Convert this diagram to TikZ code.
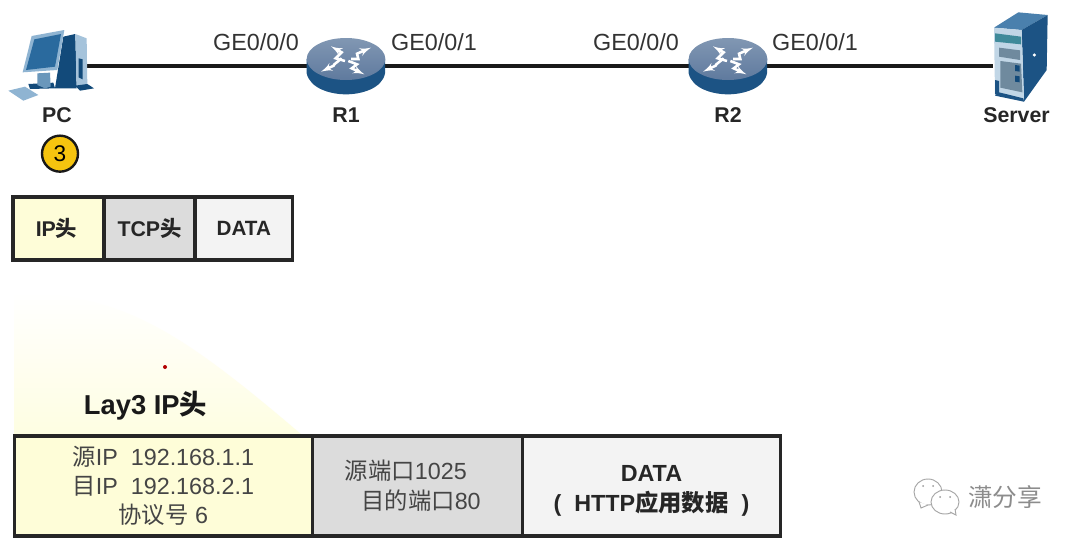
\documentclass[tikz,border=0pt]{standalone}
\usepackage{fontspec}
\setmainfont{Liberation Sans}
\newfontfamily\cjk{Noto Sans CJK SC}
\usepackage{tikz}
\usetikzlibrary{arrows}
\usetikzlibrary{calc}
\definecolor{iconblue}{HTML}{1C5384}
\definecolor{icondark}{HTML}{124A7A}
\definecolor{iconscreen}{HTML}{2A6A9E}
\definecolor{iconlight}{HTML}{8FB4D2}
\definecolor{icontop}{HTML}{4A80AD}
\definecolor{iconteal}{HTML}{3F8A9A}
\definecolor{iconpanel}{HTML}{6F8A9E}
\definecolor{routertop}{HTML}{8197B3}
\definecolor{routerlow}{HTML}{5F7A9E}
\definecolor{ipyellow}{HTML}{FEFDD8}
\definecolor{tcpgrey}{HTML}{DCDCDC}
\definecolor{datagrey}{HTML}{F3F3F3}
\definecolor{stepgold}{HTML}{F6C40F}
\definecolor{softtext}{HTML}{454545}
\newcommand{\zh}[1]{{\cjk #1}}
\tikzset{
    cell/.style={draw=black!85,line width=2.3pt,outer sep=0pt,inner sep=0pt,align=center},
    hostbox/.style={inner sep=0pt,outer sep=0pt},
    hostlabel/.style={font=\fontsize{16}{18}\selectfont\bfseries,text=black!85},
    portlabel/.style={font=\fontsize{17.5}{20}\selectfont,text=black!80},
    link/.style={line width=2.5pt,black!90},
    pics/pcicon/.style={code={
        \begin{scope}[x=.25pt,y=-.25pt,shift={(-171,-138)}]
        \fill [iconlight] (25,212) -- (75,200) -- (115,225) -- (70,242) -- cycle;
        \fill [icondark] (190,50) -- (226,42) -- (230,205) -- (165,205) -- cycle;
        \fill [iconlight!80] (226,42) -- (260,55) -- (262,195) -- (230,205) -- cycle;
        \fill [icondark] (236,115) -- (248,118) -- (248,178) -- (236,172) -- cycle;
        \fill [icondark] (225,197) -- (262,192) -- (282,205) -- (240,212) -- cycle;
        \fill [icondark] (85,192) -- (160,188) -- (165,205) -- (90,207) -- cycle;
        \fill [iconscreen!70] (112,160) -- (150,158) -- (152,200) -- (135,205) -- (112,195) -- cycle;
        \fill [iconlight] (95,48) -- (193,30) -- (172,150) -- (68,157) -- cycle;
        \fill [iconscreen] (103,58) -- (183,42) -- (165,140) -- (78,150) -- cycle;
        \end{scope}}},
    pics/routericon/.style={code={
        \begin{scope}[x=.25pt,y=-.25pt,shift={(-153,-123)}]
        \fill [iconblue] (35,102) -- (35,145) .. controls (45,190) and (105,208) .. (153,208)
            .. controls (200,208) and (262,190) .. (270,145) -- (270,102) -- cycle;
        \shade [top color=routertop,bottom color=routerlow] (153,102) ellipse [x radius=118,y radius=63];
        \draw [white,line width=1.9pt,-latex'] (150,108) -- (122,100) -- (140,82) -- (108,64);
        \draw [white,line width=1.9pt,-latex'] (168,102) -- (190,102) -- (186,86) -- (228,68);
        \draw [white,line width=1.9pt,-latex'] (140,100) -- (118,118) -- (116,122) -- (78,140);
        \draw [white,line width=1.9pt,-latex'] (160,108) -- (186,118) -- (170,130) -- (208,148);
        \end{scope}}},
    pics/servericon/.style={code={
        \begin{scope}[x=.25pt,y=-.25pt,shift={(-124.5,-183)}]
        \fill [icontop] (57,68) -- (130,22) -- (218,30) -- (140,75) -- cycle;
        \fill [iconblue] (140,75) -- (218,30) -- (215,195) -- (147,290) -- cycle;
        \fill [iconlight!55] (57,68) -- (140,75) -- (147,290) -- (60,270) -- cycle;
        \fill [iconteal] (60,85) -- (138,95) -- (138,118) -- (60,110) -- cycle;
        \fill [iconpanel] (72,128) -- (135,136) -- (135,165) -- (72,155) -- cycle;
        \fill [iconpanel] (76,168) -- (138,176) -- (142,262) -- (76,248) -- cycle;
        \fill [icondark] (120,180) -- (134,182) -- (134,200) -- (120,198) -- cycle;
        \fill [icondark] (120,212) -- (134,214) -- (134,232) -- (120,230) -- cycle;
        \fill [iconblue] (60,225) -- (72,228) -- (72,270) -- (60,268) -- cycle;
        \fill [iconblue] (72,262) -- (145,280) -- (147,290) -- (60,272) -- cycle;
        \fill [white] (178,150) circle [radius=5];
        \end{scope}}},
}
\begin{document}
\begin{tikzpicture}[x=.75pt,y=-.75pt,>=latex']
        \useasboundingbox [fill=white] (0,0) rectangle (1080,546);
        \shade [top color=white,bottom color=ipyellow!75]
        (14,292) .. controls (120,296) and (170,322) .. (302,435) -- (14,435) -- cycle;
        \fill [red!70!black] (165,367) circle [radius=2];
        \draw node [hostbox,minimum width=45pt,minimum height=42pt] (PC) at (57,66) {};
        \draw node [hostbox,minimum width=58.5pt,minimum height=42pt] (R1) at (346,66) {};
        \draw node [hostbox,minimum width=58.5pt,minimum height=42pt] (R2) at (728,66) {};
        \draw node [hostbox,minimum width=35.25pt,minimum height=42pt] (Server) at (1016.5,66) {};
        \draw [link] (PC.east) -- (R1.west);
        \draw [link] (R1.east) -- (R2.west);
        \draw [link] (R2.east) -- (Server.west);
        \pic at (PC) {pcicon};
        \pic at (R1) {routericon};
        \pic at (R2) {routericon};
        \pic at (Server) {servericon};
        \draw node [hostlabel,below of=PC,node distance=36.75pt] (PClabel) {PC};
        \draw node [hostlabel,below of=R1,node distance=36.75pt] (R1label) {R1};
        \draw node [hostlabel,below of=R2,node distance=36.75pt] (R2label) {R2};
        \draw node [hostlabel,below of=Server,node distance=36.75pt] (Serverlabel) {Server};
        \draw node [portlabel] (R1in) at (256,42) {GE0/0/0};
        \draw node [portlabel] (R1out) at (434,42) {GE0/0/1};
        \draw node [portlabel] (R2in) at (636,42) {GE0/0/0};
        \draw node [portlabel] (R2out) at (815,42) {GE0/0/1};
        \draw node [draw=black!90,circle,line width=1.8pt,fill=stepgold,inner sep=0pt,
            minimum size=27pt,font=\fontsize{17}{20}\selectfont,xshift=2.25pt,
            below of=PClabel,node distance=29pt] (Step) {3};
        \draw node [cell,fill=ipyellow,minimum width=68.25pt,minimum height=47.25pt,
            font=\fontsize{16}{18}\selectfont\bfseries,text=black!85] (H1) at (58.5,228.5) {IP\zh{头}\hspace{3pt}};
        \draw node [cell,fill=tcpgrey,minimum width=68.25pt,minimum height=47.25pt,
            font=\fontsize{16}{18}\selectfont\bfseries,text=black!85,
            right of=H1,node distance=68.25pt] (H2) {TCP\zh{头}};
        \draw node [cell,fill=datagrey,minimum width=73.1pt,minimum height=47.25pt,
            font=\fontsize{15.5}{18}\selectfont\bfseries,text=black!85,
            right of=H2,node distance=70.7pt] (H3) {DATA};
        \draw node [font=\fontsize{20.5}{22}\selectfont\bfseries,text=black!90] (Title) at (145.5,406) {Lay3 IP\zh{头}};
        \draw node [cell,fill=ipyellow,minimum width=223.5pt,minimum height=75pt,text=softtext,
            font=\fontsize{17.5}{21.75}\selectfont] (L1) at (163.3,486)
            {\zh{源}IP\ \ 192.168.1.1\\\zh{目}IP\ \ 192.168.2.1\\\zh{协议号}\ 6};
        \draw node [cell,fill=tcpgrey,minimum width=157.9pt,minimum height=75pt,text=softtext,
            font=\fontsize{17.5}{22.5}\selectfont,
            right of=L1,node distance=190.7pt] (L2)
            {\zh{源端口}1025\hspace{1em}\mbox{}\\\hspace{.3em}\zh{目的端口}80};
        \draw node [cell,fill=datagrey,minimum width=193pt,minimum height=75pt,text=black!85,
            font=\fontsize{17.5}{22.5}\selectfont\bfseries,
            right of=L2,node distance=175.4pt] (L3)
            {\rule{0pt}{20pt}DATA\\(\ \ HTTP\zh{应用数据}\ \ )};
        \draw [black!35,fill=white,line width=.7pt] (928,492) ellipse [x radius=14,y radius=13];
        \draw [black!35,fill=white,line width=.7pt] (919,502) -- (921,508) -- (928,505);
        \draw [black!35,fill=white,line width=.7pt] (945,502) ellipse [x radius=14,y radius=12];
        \draw [black!35,fill=white,line width=.7pt] (950,512) -- (956,515) -- (955,509);
        \fill [black!40] (923,486) circle [radius=1] (933,486) circle [radius=1]
            (940,497) circle [radius=1] (950,497) circle [radius=1];
        \draw node [font=\fontsize{18.5}{20}\selectfont,text=black!45] (Mark) at (1005,497) {\zh{潇分享}};
    \end{tikzpicture}
\end{document}
